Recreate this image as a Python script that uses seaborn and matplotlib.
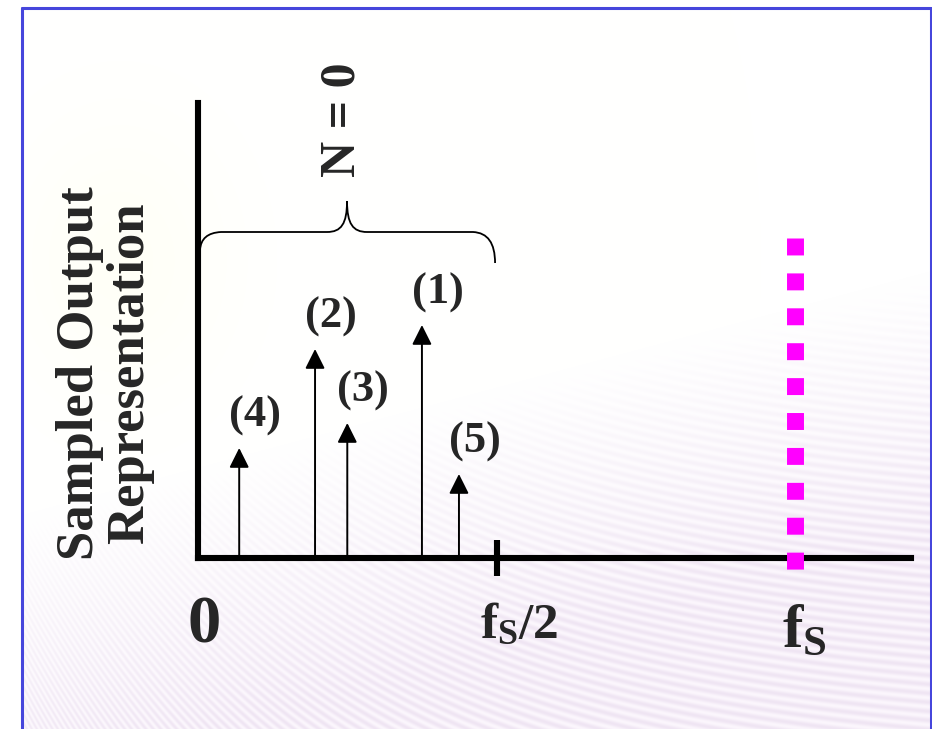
import numpy as np
import matplotlib
matplotlib.use("Agg")
import matplotlib.pyplot as plt
from matplotlib.path import Path
from matplotlib.patches import PathPatch
from matplotlib.lines import Line2D
import seaborn as sns

# ---- spectrum data (frequencies in units of fs, arbitrary amplitudes) ----
tone_labels = ["(1)", "(2)", "(3)", "(4)", "(5)"]
tone_freqs = [0.375, 0.196, 0.250, 0.069, 0.437]
tone_amps = [2.33, 2.09, 1.35, 1.10, 0.84]

fs = 1.0
nyquist = fs / 2
x_max = 1.194
y_max = 4.55

sns.set_style("white")
plt.rcParams["font.family"] = ["Liberation Serif", "DejaVu Serif"]
plt.rcParams["font.weight"] = "bold"
plt.rcParams["mathtext.fontset"] = "custom"
plt.rcParams["mathtext.rm"] = "Liberation Serif"
plt.rcParams["mathtext.bf"] = "Liberation Serif:bold"
plt.rcParams["mathtext.it"] = "Liberation Serif:italic"

W, H = 932, 729
fig = plt.figure(figsize=(W / 100, H / 100), dpi=100)
fig.patch.set_facecolor("white")

# ---- slide background: faint fanned stripes toward the bottom ----
bg = fig.add_axes([0, 0, 1, 1], zorder=-5)
yy, xx = np.mgrid[0:H, 0:W].astype(float)
curve = 600 * np.exp(-xx / 300.0)
phase = (yy + curve) / 9.0
stripe = 0.5 + 0.5 * np.cos(2 * np.pi * phase)
y0 = 520 - 250 * (xx / W)
mask = np.clip((yy - y0) / 260.0, 0, 1)
img = np.ones((H, W, 3))
img[..., 0] -= mask * (0.015 + 0.045 * stripe)
img[..., 1] -= mask * (0.035 + 0.065 * stripe)
img[..., 2] -= mask * (0.010 + 0.035 * stripe)
# faint warm tint at the upper left
tint = np.exp(-(((xx - 120) / 110) ** 2 + ((yy - 260) / 140) ** 2))
img[..., 2] -= 0.03 * tint
img[:, :22, :] = 1.0
img[:8, :, :] = 1.0
bg.imshow(np.clip(img, 0, 1), extent=(0, W, H, 0), aspect="auto", interpolation="bilinear")
bg.set_xlim(0, W)
bg.set_ylim(H, 0)
bg.axis("off")

# slide frame (blue border on left, top and right)
frame_c = "#4646dc"
fig.add_artist(Line2D([21.5 / W, 21.5 / W], [0, 1 - 8 / H], color=frame_c, lw=2.2,
                      transform=fig.transFigure))
fig.add_artist(Line2D([21.5 / W, 931 / W], [1 - 8 / H, 1 - 8 / H], color=frame_c, lw=2.2,
                      transform=fig.transFigure))
fig.add_artist(Line2D([931 / W, 931 / W], [0, 1 - 8 / H], color=frame_c, lw=2.2,
                      transform=fig.transFigure))

# ---- main axes: origin at pixel (198, 558), 597 px per fs, 100 px per unit ----
left_px, base_px, right_px, top_px = 198, 558, 911, 103
ax = fig.add_axes([left_px / W, 1 - base_px / H, (right_px - left_px) / W,
                   (base_px - top_px) / H])
ax.set_facecolor("none")
ax.set_xlim(0, x_max)
ax.set_ylim(0, y_max)
sns.despine(ax=ax)
for side in ("left", "bottom"):
    ax.spines[side].set_linewidth(4.4)
    ax.spines[side].set_color("black")
    ax.spines[side].set_capstyle("projecting")
ax.set_yticks([])
ax.set_xticks([nyquist])
ax.set_xticklabels([])
ax.tick_params(axis="x", bottom=True, direction="inout", length=26, width=4.4,
               color="black")

# spectral lines with arrowheads
for f, a in zip(tone_freqs, tone_amps):
    ax.annotate("", xy=(f, a), xytext=(f, 0),
                arrowprops=dict(arrowstyle="-|>,head_length=12,head_width=6",
                                mutation_scale=1, lw=1.4, color="black",
                                shrinkA=0, shrinkB=0),
                annotation_clip=False)
for lab, f, a in zip(tone_labels, tone_freqs, tone_amps):
    ax.text(f + 0.026, a + 0.32, lab, fontsize=32, fontweight="bold",
            ha="center", va="center", clip_on=False)

# sampling frequency marker
ax.plot([fs, fs], [3.20, -0.13], color="#ff00ff", lw=12.2,
        dashes=(1.0, 1.06), solid_capstyle="butt", dash_capstyle="butt",
        clip_on=False, zorder=10)

# brace over the first Nyquist zone
def to_data(px, py):
    return ((px - left_px) / 597.0, (base_px - py) / 100.0)

brace_px = [
    ((200, 250), Path.MOVETO),
    ((201, 233), Path.CURVE3), ((221, 232), Path.CURVE3),
    ((327, 232), Path.LINETO),
    ((341, 232), Path.CURVE4), ((347, 224), Path.CURVE4), ((347, 201), Path.CURVE4),
    ((347, 224), Path.CURVE4), ((353, 232), Path.CURVE4), ((367, 232), Path.CURVE4),
    ((473, 232), Path.LINETO),
    ((495, 233), Path.CURVE3), ((495, 263), Path.CURVE3),
]
verts = [to_data(*p) for p, _ in brace_px]
codes = [c for _, c in brace_px]
ax.add_patch(PathPatch(Path(verts, codes), fill=False, lw=1.3, color="black",
                       clip_on=False))

# text annotations
ax.text(*to_data(342, 120), "N = 0", rotation=90, fontsize=36, fontweight="bold",
        ha="center", va="center", clip_on=False)
ax.text(*to_data(105, 373), "Sampled Output\nRepresentation", rotation=90,
        fontsize=38, fontweight="bold", ha="center", va="center",
        multialignment="center", linespacing=1.05, clip_on=False)
ax.text(*to_data(204, 626), "0", fontsize=48, fontweight="bold",
        ha="center", va="center", clip_on=False)
ax.text(*to_data(480, 638), r"$\mathbf{f}_{\mathrm{S}}\mathbf{/2}$", fontsize=37,
        ha="left", va="baseline", clip_on=False)
ax.text(*to_data(782, 647), r"$\mathbf{f}_{\mathrm{S}}$", fontsize=44,
        ha="left", va="baseline", clip_on=False)

fig.savefig("out.png", dpi=100)
